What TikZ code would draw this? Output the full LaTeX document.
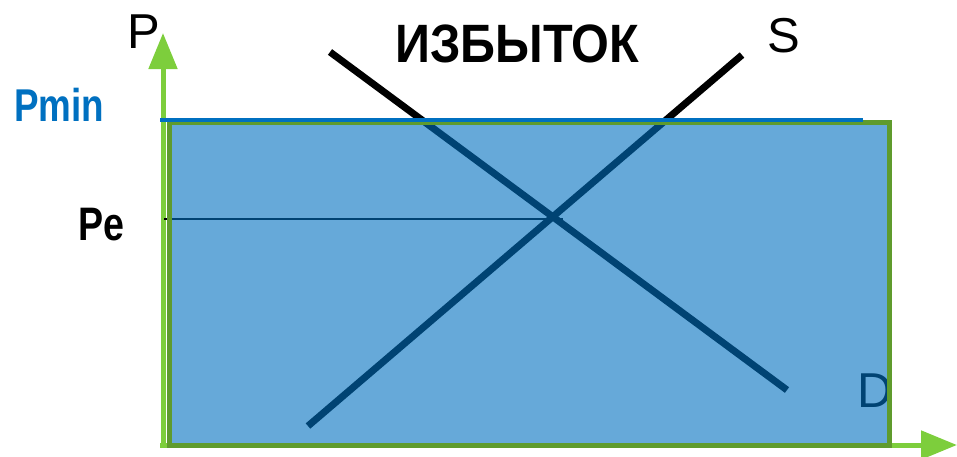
\documentclass[tikz,border=0pt]{standalone}
\usepackage{fontspec}
\setmainfont{Liberation Sans}
\newfontfamily\narrowbold{Liberation Sans}[FakeStretch=0.8]
\newfontfamily\titlefont{Liberation Sans}[FakeStretch=0.9]
\usetikzlibrary{arrows.meta}
\definecolor{axisgreen}{RGB}{125,206,60}
\definecolor{boxgreen}{RGB}{95,155,45}
\definecolor{pmblue}{RGB}{0,112,192}
\begin{document}
\begin{tikzpicture}[x=1pt,y=-1pt,
  axisline/.style={draw=axisgreen, line width=5pt, -{Triangle[length=36pt,width=28pt]}},
  curveline/.style={draw=black, line width=7pt},
  peline/.style={draw=black, line width=2.5pt},
  pminline/.style={draw=pmblue, line width=4pt},
  lbl/.style={inner sep=0pt, anchor=base west, font=\fontsize{49}{49}\selectfont},
  boxstyle/.style={draw=boxgreen, line width=5pt, fill=pmblue, fill opacity=0.6, inner sep=0pt, minimum width=720pt, minimum height=323pt}]
\useasboundingbox (0,0) rectangle (957,456);
% axes
\coordinate (vstart) at (163,448);
\coordinate (vend) at (163,33);
\coordinate (hstart) at (160,445);
\coordinate (hend) at (957,445);
\draw[axisline] (vstart) -- (vend);
\draw[axisline] (hstart) -- (hend);
% curves
\coordinate (d1) at (330,52);
\coordinate (d2) at (787,390);
\coordinate (s1) at (308,426);
\coordinate (s2) at (742,55);
\draw[curveline] (d1) -- (d2);
\draw[curveline] (s1) -- (s2);
\coordinate (pe0) at (164,219);
\coordinate (pe1) at (563,219);
\draw[peline] (pe0) -- (pe1);
\node[lbl] (dlabel) at (857,407) {D};
% surplus area
\node[boxstyle] (box) at (529,283.5) {};
\coordinate (pm0) at (160,119.5);
\coordinate (pm1) at (863,119.5);
\draw[pminline] (pm0) -- (pm1);
% labels
\node[lbl] (plabel) at (127,48) {P};
\node[lbl] (slabel) at (767,52) {S};
\node[inner sep=0pt, anchor=base west, font=\titlefont\bfseries\fontsize{54}{54}\selectfont] (title) at (395,62) {ИЗБЫТОК};
\node[inner sep=0pt, anchor=base west, text=pmblue, font=\narrowbold\bfseries\fontsize{46}{46}\selectfont] (pmin) at (14,121) {Pmin};
\node[inner sep=0pt, anchor=base west, font=\narrowbold\bfseries\fontsize{47}{47}\selectfont] (pe) at (78,240) {Pe};
\end{tikzpicture}
\end{document}
